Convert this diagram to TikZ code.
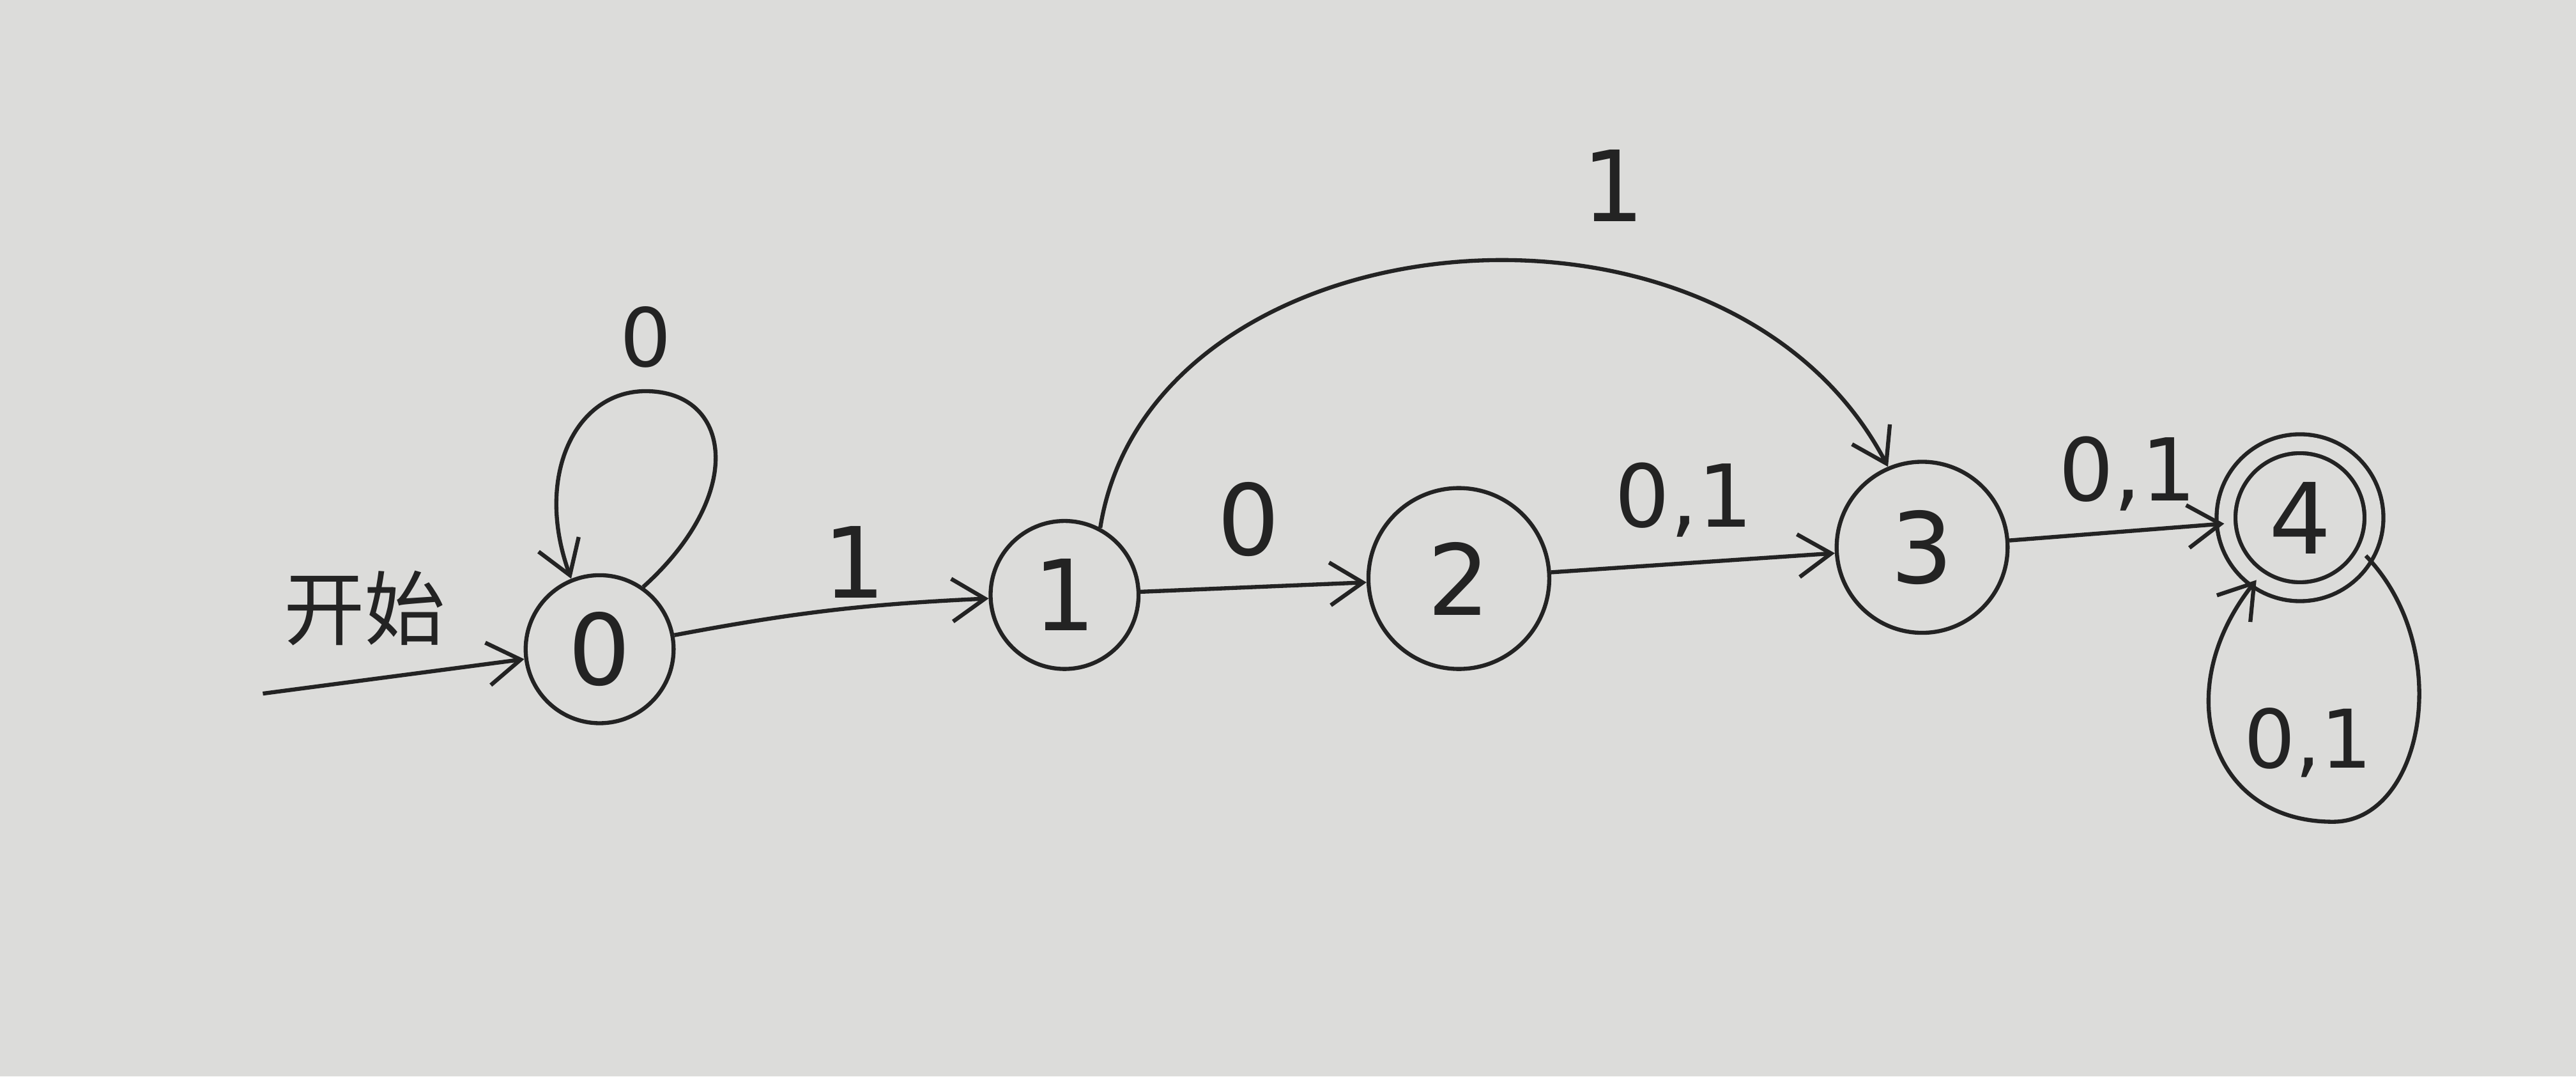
\documentclass[tikz,border=0pt]{standalone}
\usepackage{fontspec}
\setmainfont{DejaVu Sans}
\newfontfamily\cjk{Noto Sans CJK SC}
\usetikzlibrary{arrows.meta}
\definecolor{paper}{RGB}{220,220,218}
\definecolor{ink}{RGB}{35,35,35}
\begin{document}
\begin{tikzpicture}[x=0.01cm,y=-0.01cm,
  state/.style={circle,draw=ink,line width=0.7pt,inner sep=0pt,text=ink,font=\fontsize{17}{19}\selectfont},
  lbl/.style={inner sep=1pt,text=ink,font=\fontsize{14}{16}\selectfont},
  midlbl/.style={inner sep=1pt,text=ink,font=\fontsize{15}{17}\selectfont},
  biglbl/.style={inner sep=1pt,text=ink,font=\fontsize{17}{19}\selectfont},
  edge/.style={draw=ink,line width=0.7pt,-{Straight Barb[length=2mm,width=2.6mm]}}]
\fill[paper] (0,0) rectangle (1568,655);
\useasboundingbox (0,0) rectangle (1568,655);
% states
\node[state,minimum size=0.9cm] (n0) at (365,395) {0};
\node[state,minimum size=0.9cm] (n1) at (648,362) {1};
\node[state,minimum size=1.1cm] (n2) at (888,352) {2};
\node[state,minimum size=1.04cm] (n3) at (1170,333) {3};
\node[state,minimum size=0.9cm,double=paper,double distance=0.09cm] (n4) at (1400,315) {4};
% start
\coordinate (s) at (160,422);
\node[lbl] (start) at (222,370) {\cjk 开始};
\draw[edge] (s) -- (n0);
% loop on 0
\coordinate (t0) at (393,238);
\node[lbl] (l0) at (393,205) {0};
\draw[edge] (n0.55) .. controls (455,300) and (445,238) .. (t0) .. controls (350,238) and (325,290) .. (n0.112);
% edges
\draw[edge] (n0) to[bend left=4] (n1);
\node[biglbl] (l01) at (520,342) {1};
\draw[edge] (n1) -- (n2);
\node[biglbl] (l12) at (760,316) {0};
\draw[edge] (n2) -- (n3);
\node[midlbl] (l23) at (1025,304) {0,1};
\draw[edge] (n3) -- (n4);
\node[midlbl] (l34) at (1295,288) {0,1};
% arc 1 -> 3
\node[biglbl] (l13) at (982,113) {1};
\draw[edge] (n1.62) .. controls (700,130) and (1050,95) .. (n3.113);
% loop on 4
\node[lbl] (l4) at (1405,452) {0,1};
\draw[edge] (n4.-30) .. controls (1495,395) and (1475,500) .. (1420,500) .. controls (1345,500) and (1320,420) .. (n4.-125);
\end{tikzpicture}
\end{document}
